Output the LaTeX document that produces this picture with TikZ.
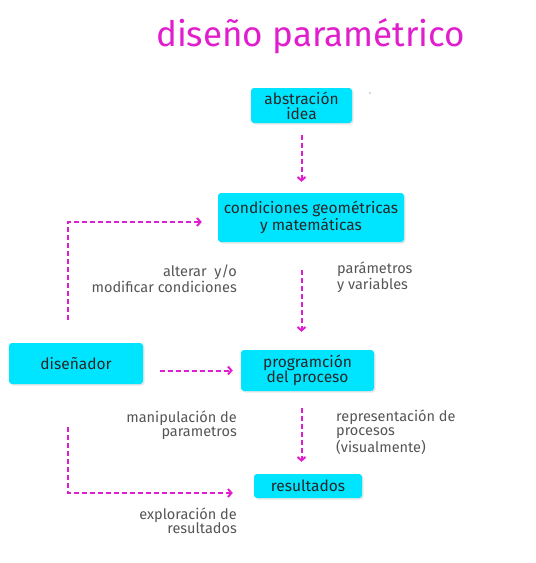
\documentclass[tikz,border=0pt]{standalone}
\usepackage{fontspec}
\setmainfont{Fira Sans}
\usetikzlibrary{arrows.meta,shadows}
\definecolor{boxc}{RGB}{0,229,255}
\definecolor{mag}{RGB}{225,30,205}
\definecolor{lbl}{RGB}{85,85,85}
\begin{document}
\begin{tikzpicture}[x=1pt,y=-1pt,
 box/.style={fill=boxc, rounded corners=3pt, inner sep=0pt, align=center, text=black!85,
   font=\fontsize{15.5}{15}\selectfont,
   drop shadow={opacity=0.2, shadow xshift=1.5pt, shadow yshift=-1.5pt}},
 link/.style={draw=mag, line width=2pt, dash pattern=on 5pt off 3pt,
   -{Straight Barb[length=3.5pt,width=8pt]}},
 lab/.style={text=lbl, font=\fontsize{14.5}{14}\selectfont, inner sep=0pt}]
\useasboundingbox (0,0) rectangle (536,563);
\node[text=mag, font=\fontsize{35}{35}\selectfont] (title) at (310.5,36) {diseño paramétrico};
\node[box, minimum width=101pt, minimum height=35pt] (abs) at (301.5,105.5) {abstración\\idea};
\node[box, minimum width=186pt, minimum height=49pt] (cond) at (311,217.5) {condiciones geométricas\\y matemáticas};
\node[box, minimum width=134pt, minimum height=41pt] (dis) at (76,363.5) {diseñador};
\node[box, minimum width=133pt, minimum height=41pt] (prog) at (307.5,370.5) {programción\\del proceso};
\node[box, minimum width=108pt, minimum height=24pt] (res) at (308,486) {resultados};
\fill[black!70] (370,93) circle (0.6pt);
\coordinate (l1) at (68,320);
\coordinate (l2) at (68,427);
\draw[link, shorten <=12pt, shorten >=11pt] (abs.south) -- (abs.south |- cond.north);
\draw[link, shorten <=28pt, shorten >=18pt] (abs.south |- cond.south) -- (abs.south |- prog.north);
\draw[link, shorten <=17pt, shorten >=12pt] (abs.south |- prog.south) -- (abs.south |- res.north);
\draw[link, shorten <=17pt, shorten >=8pt] (dis.east |- prog.west) -- (prog.west);
\draw[link, shorten >=16pt] (l1) |- ([yshift=-4.5pt]cond.west);
\draw[link, shorten >=21pt] (l2) |- ([yshift=-7pt]res.west);
\node[lab, anchor=north east, align=right] (t1) at (237,265) {alterar\ \ y/o\\modificar condiciones};
\node[lab, anchor=north west, align=left] (t2) at (337,262) {parámetros\\y variables};
\node[lab, anchor=north east, align=right] (t3) at (237,411) {manipulación de\\parametros};
\node[lab, anchor=north west, align=left] (t4) at (336,410) {representación de\\procesos\\(visualmente)};
\node[lab, anchor=north east, align=right] (t5) at (237,508) {exploración de\\resultados};
\end{tikzpicture}
\end{document}
